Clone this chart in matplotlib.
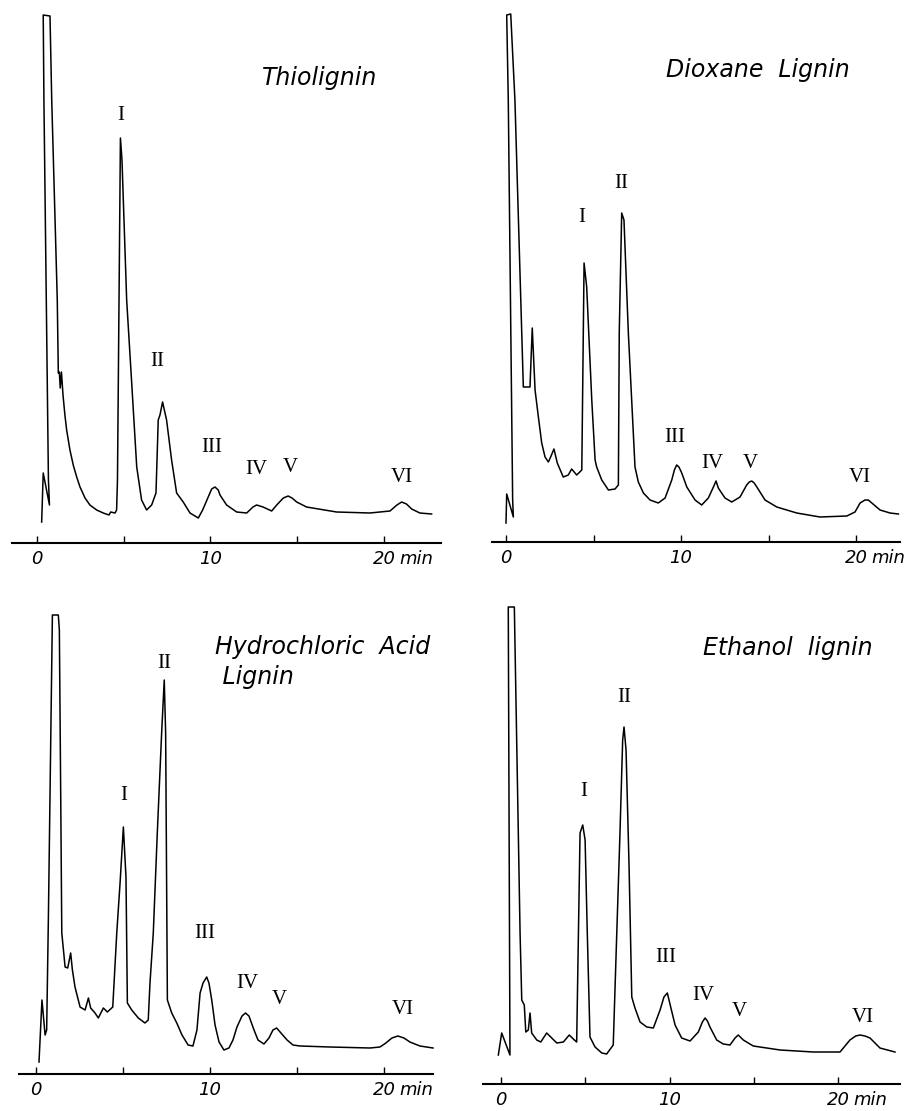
import matplotlib
matplotlib.use("Agg")
import matplotlib.pyplot as plt

# 滯留時間 (min) 與檢出器響應 (相對值)
# Thiolignin
thio_t = [0.27, 0.36, 0.72, 0.66, 0.40, 0.36, 0.75, 0.85, 1.17, 1.23, 1.29, 1.34, 1.41, 1.50,
          1.61, 1.71, 1.90, 2.09, 2.29, 2.48, 2.77, 3.05, 3.44, 3.82, 4.15, 4.25, 4.50, 4.59,
          4.64, 4.81, 4.90, 5.17, 5.46, 5.75, 6.03, 6.32, 6.61, 6.86, 6.99, 7.09, 7.24, 7.47,
          7.76, 8.05, 8.43, 8.82, 9.30, 9.55, 9.97, 10.07, 10.26, 10.45, 10.55, 10.93, 11.51,
          12.09, 12.45, 12.66, 12.85, 13.03, 13.53, 13.82, 14.20, 14.48, 14.70, 14.97, 15.54,
          17.27, 19.19, 20.35, 20.75, 21.02, 21.30, 21.60, 22.07, 22.75]
thio_y = [21, 70, 38, 63, 443, 528, 527, 443, 243, 170, 171, 155, 171, 148,
          128, 113, 93, 78, 66, 56, 45, 38, 33, 30, 28, 31, 30, 33,
          63, 405, 383, 243, 160, 76, 43, 33, 38, 50, 123, 128, 141, 123,
          83, 50, 41, 30, 25, 33, 50, 54, 56, 53, 48, 38, 31,
          30, 36, 38, 37, 36, 32, 38, 45, 47, 45, 41, 36,
          31, 30, 32, 38, 41, 39, 34, 30, 29]

# Dioxane Lignin
diox_t = [0.00, 0.04, 0.42, 0.38, 0.13, 0.04, 0.27, 0.51, 0.99, 1.09, 1.37, 1.50, 1.66, 1.85,
          2.04, 2.23, 2.42, 2.55, 2.74, 2.93, 3.27, 3.56, 3.75, 4.04, 4.33, 4.46, 4.61, 4.90,
          5.09, 5.18, 5.47, 5.85, 6.23, 6.42, 6.47, 6.61, 6.74, 6.99, 7.37, 7.56, 7.85, 8.23,
          8.70, 9.09, 9.47, 9.62, 9.75, 9.88, 10.04, 10.33, 10.80, 11.18, 11.56, 11.85, 12.00,
          12.13, 12.51, 12.90, 13.37, 13.75, 13.90, 14.04, 14.18, 14.33, 14.80, 15.47, 16.61,
          17.94, 19.47, 19.94, 20.23, 20.51, 20.70, 20.90, 21.37, 21.94, 22.42]
diox_y = [19, 48, 25, 42, 442, 527, 528, 442, 155, 155, 155, 214, 152, 125,
          99, 85, 80, 85, 93, 79, 65, 67, 73, 67, 72, 279, 255, 142,
          82, 75, 62, 52, 53, 57, 209, 329, 322, 209, 75, 60, 49, 42,
          39, 44, 62, 72, 77, 75, 69, 55, 42, 37, 44, 55, 61,
          54, 44, 40, 45, 57, 60, 61, 59, 55, 42, 35, 29,
          25, 26, 30, 39, 42, 42, 39, 32, 29, 28]

# Hydrochloric Acid Lignin
hcl_t = [0.17, 0.34, 0.52, 0.61, 0.71, 0.94, 1.28, 1.34, 1.42, 1.48, 1.67, 1.82, 1.99, 2.09,
         2.24, 2.53, 2.82, 3.01, 3.14, 3.39, 3.58, 3.87, 4.10, 4.41, 4.64, 4.83, 5.02, 5.17,
         5.25, 5.50, 5.88, 6.26, 6.45, 6.55, 6.74, 6.97, 7.22, 7.37, 7.45, 7.55, 7.80, 8.09,
         8.39, 8.74, 9.02, 9.25, 9.43, 9.60, 9.81, 9.94, 10.10, 10.29, 10.52, 10.80, 11.09,
         11.32, 11.55, 11.84, 12.04, 12.24, 12.53, 12.76, 13.10, 13.39, 13.62, 13.83, 14.08,
         14.43, 14.77, 15.17, 16.90, 19.20, 19.77, 20.11, 20.46, 20.80, 21.15, 21.49, 22.07, 22.82]
hcl_y = [12, 74, 39, 44, 157, 459, 459, 444, 274, 141, 107, 106, 121, 104,
         87, 67, 64, 76, 66, 61, 56, 66, 62, 67, 141, 191, 247, 197,
         71, 64, 56, 51, 54, 91, 141, 241, 341, 394, 341, 74, 61, 51,
         39, 29, 28, 44, 81, 91, 97, 91, 74, 49, 32, 24, 26,
         34, 47, 58, 61, 58, 44, 34, 30, 36, 44, 46, 41,
         34, 29, 28, 27, 26, 27, 31, 36, 38, 36, 32, 28, 26]

# Ethanol lignin
etoh_t = [-0.16, 0.04, 0.53, 0.43, 0.79, 1.13, 1.23, 1.38, 1.47, 1.62, 1.72, 1.82, 2.12, 2.36,
          2.71, 3.01, 3.31, 3.70, 4.05, 4.29, 4.49, 4.53, 4.69, 4.85, 4.99, 5.12, 5.28, 5.58,
          5.98, 6.27, 6.66, 6.87, 7.06, 7.22, 7.30, 7.42, 7.60, 7.76, 7.95, 8.25, 8.65, 9.04,
          9.44, 9.67, 9.87, 10.07, 10.33, 10.72, 11.22, 11.71, 11.95, 12.11, 12.25, 12.40, 12.80,
          13.19, 13.59, 13.89, 14.08, 14.38, 14.97, 16.56, 18.53, 20.12, 20.71, 21.05, 21.31,
          21.60, 21.90, 22.49, 23.38]
etoh_y = [29, 51, 29, 477, 477, 151, 84, 79, 52, 54, 71, 51, 44, 42,
          51, 46, 41, 42, 49, 45, 42, 84, 251, 259, 244, 151, 47, 37,
          31, 30, 39, 151, 251, 344, 357, 334, 217, 87, 76, 62, 57, 56,
          74, 87, 91, 77, 59, 46, 43, 52, 62, 66, 63, 57, 44,
          40, 39, 46, 49, 44, 38, 34, 32, 32, 44, 48, 49,
          48, 46, 36, 32]

peak_names = ["I", "II", "III", "IV", "V", "VI"]

# 峰標籤位置
thio_lab = ([4.82, 6.96, 10.09, 12.62, 14.58, 21.04], [428, 181, 96, 73, 76, 65])
diox_lab = ([4.33, 6.61, 9.62, 11.79, 13.98, 20.23], [324, 359, 104, 79, 79, 65])
hcl_lab = ([5.07, 7.37, 9.67, 12.16, 13.98, 21.11], [279, 411, 141, 91, 74, 64])
etoh_lab = ([4.89, 7.30, 9.79, 12.01, 14.14, 21.47], [292, 386, 127, 89, 72, 67])

W, H = 917, 1111

# 各圖: 像素框 (left, right, axis_y, top), x 範圍, 標題
panels = [
    {"t": thio_t, "y": thio_y, "lab": thio_lab, "box": (12, 441, 543, 10),
     "xlim": (-1.44, 23.29), "title": "Thiolignin", "title_xy": (16.3, 465), "ha": "center"},
    {"t": diox_t, "y": diox_y, "lab": diox_lab, "box": (492, 900, 542, 10),
     "xlim": (-0.80, 22.51), "title": "Dioxane  Lignin", "title_xy": (14.4, 472), "ha": "center"},
    {"t": hcl_t, "y": hcl_y, "lab": hcl_lab, "box": (19, 433, 1074, 590),
     "xlim": (-0.98, 22.82), "title": "Hydrochloric  Acid\n Lignin", "title_xy": (10.3, 412), "ha": "left"},
    {"t": etoh_t, "y": etoh_y, "lab": etoh_lab, "box": (483, 900, 1084, 590),
     "xlim": (-1.07, 23.68), "title": "Ethanol  lignin", "title_xy": (17.0, 436), "ha": "center"},
]

fig = plt.figure(figsize=(W / 100, H / 100), dpi=100)

for p in panels:
    left, right, axis_y, top = p["box"]
    ax = fig.add_axes([left / W, (H - axis_y) / H, (right - left) / W, (axis_y - top) / H])
    ax.set_xlim(*p["xlim"])
    ax.set_ylim(0, axis_y - top)

    # 層析曲線
    ax.plot(p["t"], p["y"], color="black", linewidth=1.1, clip_on=False)

    # 峰編號
    for name, lt, ly in zip(peak_names, p["lab"][0], p["lab"][1]):
        ax.text(lt, ly, name, ha="center", va="center", fontsize=15,
                family="Liberation Serif")

    # 標題
    ax.text(p["title_xy"][0], p["title_xy"][1], p["title"], ha=p["ha"], va="center",
            fontsize=17, style="italic", family="DejaVu Sans", linespacing=1.3)

    # 時間軸
    for s in ["top", "left", "right"]:
        ax.spines[s].set_visible(False)
    ax.spines["bottom"].set_linewidth(1.5)
    ax.set_yticks([])
    ax.set_xticks([0, 5, 10, 15, 20])
    ax.set_xticklabels(["0", "", "10", "", "20"], fontsize=13, style="italic")
    ax.tick_params(axis="x", direction="in", length=5, width=1.0, pad=5)
    ax.annotate("min", xy=(20, 0), xytext=(11, -5), textcoords="offset points",
                ha="left", va="top", fontsize=13, style="italic")

fig.savefig("out.png", dpi=100, facecolor="white")
